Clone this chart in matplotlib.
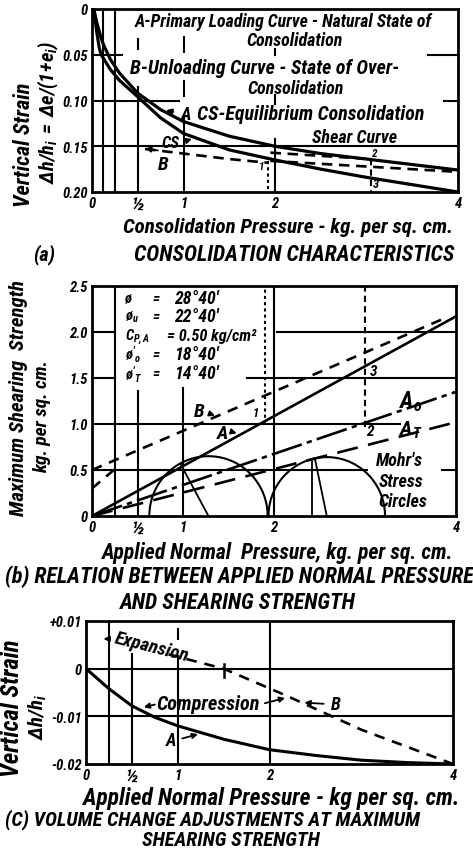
import matplotlib
matplotlib.use('Agg')
import matplotlib.pyplot as plt
from matplotlib import font_manager
import numpy as np

# ---------------- data ----------------
# (a) consolidation characteristics
a_press_A = [0.02, 0.05, 0.1, 0.13, 0.2, 0.3, 0.5, 0.75, 1.0, 1.5, 2.0, 2.5, 3.0, 3.5, 4.0]
a_strain_A = [0.0, 0.014, 0.032, 0.040, 0.055, 0.070, 0.092, 0.110, 0.123, 0.139, 0.150, 0.158, 0.164, 0.170, 0.176]
a_press_CS = [0.02, 0.05, 0.08, 0.1, 0.2, 0.3, 0.5, 0.75, 1.0, 1.5, 2.0, 2.5, 3.0, 3.5, 4.0]
a_strain_CS = [0.0, 0.024, 0.043, 0.050, 0.066, 0.078, 0.096, 0.119, 0.136, 0.154, 0.165, 0.175, 0.184, 0.192, 0.200]
a_press_B = [0.58, 1.0, 1.5, 1.92]
a_strain_B = [0.153, 0.158, 0.164, 0.168]
a_press_B2 = [1.95, 3.05]
a_strain_B2 = [0.157, 0.164]
a_press_B3 = [1.95, 4.0]
a_strain_B3 = [0.166, 0.178]
a_xticks = [0, 0.5, 1, 2, 4]
a_xticklabels = ['0', '½', '1', '2', '4']
a_yticks = [0, 0.05, 0.10, 0.15, 0.20]
a_yticklabels = ['0', '0.05', '0.10', '0.15', '0.20']

# (b) shearing strength
b_press_A = [0, 4]
b_tau_A = [0, 2.17]
b_press_B = [0, 3.9]
b_tau_B = [0.5, 2.16]
b_press_B0 = [0, 0.3]
b_tau_B0 = [0.3, 0.55]
b_press_A0 = [0, 4]
b_tau_A0 = [0, 1.35]
b_press_AT = [0, 4]
b_tau_AT = [0, 1.02]
mohr_centers = [1.28, 2.58]
mohr_radii = [0.65, 0.64]
b_xticks = [0, 0.5, 1, 2, 4]
b_xticklabels = ['0', '½', '1', '2', '4']
b_yticks = [0, 0.5, 1.0, 1.5, 2.0, 2.5]
b_yticklabels = ['0', '0.5', '1.0', '1.5', '2.0', '2.5']
b_params_sym = ['ø', '$ø_u$', '$C_{P,A}$', "$ø'_o$", "$ø'_T$"]
b_params_val = ["28°40'", "22°40'", '0.50 kg/cm²', "18°40'", "14°40'"]

# (c) volume change
c_press_A = [0, 0.25, 0.5, 0.75, 1.0, 1.5, 2.0, 2.5, 3.0, 3.5, 4.0]
c_strain_A = [0, -0.0042, -0.0078, -0.0102, -0.0120, -0.0148, -0.0170, -0.0182, -0.0192, -0.0197, -0.0200]
c_press_B = [0.9, 1.5, 2.2, 3.0, 4.0]
c_strain_B = [0.0030, 0.0, -0.0058, -0.0128, -0.0200]
c_xticks = [0, 0.5, 1, 2, 4]
c_xticklabels = ['0', '½', '1', '2', '4']
c_yticks = [0.01, 0, -0.01, -0.02]
c_yticklabels = ['+0.01', '0', '-0.01', '-0.02']

# ---------------- fonts ----------------
avail = {f.name for f in font_manager.fontManager.ttflist}
FONT = next((n for n in ['Liberation Sans Narrow', 'Roboto Condensed', 'Roboto', 'DejaVu Sans']
             if n in avail), 'DejaVu Sans')
plt.rcParams['font.family'] = [FONT, 'DejaVu Sans']
plt.rcParams['font.style'] = 'italic'
plt.rcParams['font.weight'] = 'bold'
plt.rcParams['mathtext.fontset'] = 'custom'
plt.rcParams['mathtext.rm'] = f'{FONT}:italic:bold'
plt.rcParams['mathtext.it'] = f'{FONT}:italic:bold'
plt.rcParams['mathtext.bf'] = f'{FONT}:italic:bold'

W, H = 473, 853
fig = plt.figure(figsize=(W / 100, H / 100), dpi=100)
fig.patch.set_facecolor('white')
renderer = fig.canvas.get_renderer()
K = 'black'


def ax_px(l, r, t, b):
    return fig.add_axes([l / W, 1 - b / H, (r - l) / W, (b - t) / H])


def fit(t, width, size, rot=0):
    if width:
        w = t.get_window_extent(renderer).width
        f = min(max(width / w, 0.5), 2.0)
        t.set_fontsize(size * f)
    t.set_rotation(rot)
    return t


def ftext(xp, yp, s, width=None, size=12, ha='left', va='center', rot=0):
    t = fig.text(xp / W, 1 - yp / H, s, fontsize=size, ha=ha, va=va, color=K)
    return fit(t, width, size, rot)


def atext(ax, x, y, s, width=None, size=13, ha='center', va='center', rot=0):
    t = ax.text(x, y, s, fontsize=size, ha=ha, va=va, color=K)
    return fit(t, width, size, rot)


def style(ax, xt, xl, yt, yl):
    for s in ax.spines.values():
        s.set_linewidth(2)
        s.set_color(K)
    ax.set_xticks(xt, xl)
    ax.set_yticks(yt, yl)
    ax.tick_params(length=0, pad=3, labelsize=10.5)
    for lab in ax.get_xticklabels():
        if lab.get_text() == '½':
            lab.set_fontsize(14)
    ax.set_facecolor('white')


def arrow(ax, xy, xytext):
    ax.annotate('', xy=xy, xytext=xytext,
                arrowprops=dict(arrowstyle='-|>', color=K, lw=1.3, mutation_scale=8))


LW = 1.9
GW = 1.5

# ================= (a) =================
ax = ax_px(92, 458, 10, 193)
ax.set_xlim(0, 4)
ax.set_ylim(0.20, 0)
style(ax, a_xticks, a_xticklabels, a_yticks, a_yticklabels)
for x, segs in [(0.125, [(0, 0.2)]), (0.25, [(0, 0.2)]),
                (0.5, [(0.033, 0.044), (0.085, 0.2)]),
                (1.0, [(0.031, 0.047), (0.079, 0.095), (0.118, 0.2)]),
                (2.0, [(0.044, 0.050), (0.094, 0.104), (0.142, 0.2)])]:
    for y0, y1 in segs:
        ax.plot([x, x], [y0, y1], color=K, lw=GW)
for y, segs in [(0.05, [(0, 0.33), (3.67, 4)]), (0.10, [(0, 0.95), (3.85, 4)]),
                (0.15, [(0, 4)])]:
    for x0, x1 in segs:
        ax.plot([x0, x1], [y, y], color=K, lw=GW)
ax.plot(a_press_A, a_strain_A, color=K, lw=LW + 0.4)
ax.plot(a_press_CS, a_strain_CS, color=K, lw=LW + 0.4)
ax.plot(a_press_B, a_strain_B, color=K, lw=LW, dashes=(4, 2.5))
ax.plot(a_press_B2, a_strain_B2, color=K, lw=LW, dashes=(4, 2.5))
ax.plot(a_press_B3, a_strain_B3, color=K, lw=LW, dashes=(4, 2.5))
ax.plot([1.92, 1.92], [0.166, 0.2], color=K, lw=GW, dashes=(1.5, 1.5))
ax.plot([3.05, 3.05], [0.164, 0.2], color=K, lw=GW, dashes=(3, 2))
arrow(ax, (0.55, 0.152), (0.75, 0.155))
atext(ax, 0.78, 0.169, 'B', size=14)
atext(ax, 0.86, 0.146, 'CS', size=12)
arrow(ax, (1.12, 0.141), (1.0, 0.145))
atext(ax, 1.85, 0.172, '1', size=8)
atext(ax, 3.08, 0.157, '2', size=8)
atext(ax, 3.1, 0.191, '3', size=9)

ftext(135, 22, 'A-Primary Loading Curve - Natural State of', width=298)
ftext(295, 41, 'Consolidation', size=13, ha='center')
ftext(130, 68, 'B-Unloading Curve - State of Over-', width=270)
ftext(296, 89, 'Consolidation', size=13, ha='center')
ftext(186, 115, 'A', size=13, ha='center')
ftext(197, 115, 'CS-Equilibrium Consolidation', width=228)
ftext(355, 138, 'Shear Curve', size=13, ha='center')
ax.annotate('', xy=(0.78, 0.110), xytext=(0.92, 0.113),
            arrowprops=dict(arrowstyle='-|>', color=K, lw=1.3, mutation_scale=8))

ftext(24, 145, 'Vertical Strain', width=125, size=14, ha='center', rot=90)
ftext(48, 112, r'$\Delta h/h_i\;=\;\Delta e/(1\!+\!e_i)$', width=143, size=12, ha='center', rot=90)
ftext(123, 228, 'Consolidation Pressure - kg. per sq. cm.', width=330)
ftext(33, 255, '(a)', width=22)

# ================= (b) =================
bx = ax_px(92, 456, 287, 517)
bx.set_xlim(0, 4)
bx.set_ylim(0, 2.5)
style(bx, b_xticks, b_xticklabels, b_yticks, b_yticklabels)
for x, segs in [(0.25, [(0, 2.5)]), (0.5, [(0, 1.36)]), (1.0, [(0, 1.39)]), (2.0, [(0, 2.5)])]:
    for y0, y1 in segs:
        bx.plot([x, x], [y0, y1], color=K, lw=GW)
bx.plot([1.9, 1.9], [1.0, 2.5], color=K, lw=GW, dashes=(1.5, 1.5))
bx.plot([3.0, 3.0], [0.97, 2.5], color=K, lw=GW, dashes=(3, 2))
for y, segs in [(0.5, [(0, 3.02), (3.85, 4)]), (1.0, [(0, 3.38)]),
                (1.5, [(0, 0.25), (1.7, 4)]), (2.0, [(0, 0.25), (2.03, 4)])]:
    for x0, x1 in segs:
        bx.plot([x0, x1], [y, y], color=K, lw=GW)
bx.plot(b_press_A, b_tau_A, color=K, lw=LW)
bx.plot(b_press_B, b_tau_B, color=K, lw=LW, dashes=(4, 3))
bx.plot(b_press_B0, b_tau_B0, color=K, lw=LW, dashes=(4, 3))
bx.plot(b_press_A0, b_tau_A0, color=K, lw=LW, dashes=(12, 2, 2, 2))
bx.plot(b_press_AT, b_tau_AT, color=K, lw=LW, dashes=(8, 4))
th = np.linspace(0, np.pi, 100)
for c, r in zip(mohr_centers, mohr_radii):
    bx.plot(c + r * np.cos(th), r * np.sin(th), color=K, lw=GW)
bx.plot([0.97, mohr_centers[0]], [0.57, 0], color=K, lw=1.3)
bx.plot([2.42, 2.42], [0, 0.62], color=K, lw=1.3)
bx.plot([2.45, mohr_centers[1]], [0.62, 0], color=K, lw=1.3)
rows = [2.37, 2.17, 1.96, 1.76, 1.55]
for i, (s, v) in enumerate(zip(b_params_sym, b_params_val)):
    atext(bx, 0.36, rows[i], s, size=10.5, ha='left')
    if i == 2:
        atext(bx, 0.82, rows[i], '= ' + v, width=90, size=10.5, ha='left')
    else:
        atext(bx, 0.66, rows[i], '=', size=10.5, ha='left')
        atext(bx, 0.90, rows[i], v, width=44, size=10.5, ha='left')
atext(bx, 1.18, 1.14, 'B', size=14)
arrow(bx, (1.38, 1.08), (1.27, 1.12))
atext(bx, 1.43, 0.90, 'A', size=14)
arrow(bx, (1.62, 0.89), (1.52, 0.92))
atext(bx, 1.8, 1.12, '1', size=9)
atext(bx, 3.09, 1.58, '3', size=11)
atext(bx, 3.05, 0.92, '2', size=11)
atext(bx, 3.5, 1.26, '$A_o$', width=24, size=13)
atext(bx, 3.5, 0.94, '$A_T$', width=24, size=13)
atext(bx, 3.38, 0.61, "Mohr's", size=13)
atext(bx, 3.4, 0.385, 'Stress', size=13)
atext(bx, 3.42, 0.16, 'Circles', size=13)

ftext(19, 398, 'Maximum Shearing  Strength', width=237, size=14, ha='center', rot=90)
ftext(42, 417, 'kg. per sq. cm.', width=113, size=13, ha='center', rot=90)
ftext(102, 553, 'Applied Normal  Pressure, kg. per sq. cm.', width=351)
tb = ftext(5, 577, '(b) RELATION BETWEEN APPLIED NORMAL PRESSURE', width=467)
TS = tb.get_fontsize()
ftext(238, 603, 'AND SHEARING STRENGTH', size=TS, ha='center')
ftext(294, 255, 'CONSOLIDATION CHARACTERISTICS', size=TS, ha='center')

# ================= (c) =================
cx = ax_px(86, 453, 622, 765)
cx.set_xlim(0, 4)
cx.set_ylim(-0.02, 0.01)
style(cx, c_xticks, c_xticklabels, c_yticks, c_yticklabels)
for x, segs in [(0.25, [(-0.02, 0.01)]), (0.5, [(-0.02, 0.003)]),
                (1.0, [(0.0063, 0.0083), (-0.02, 0.0027)]), (2.0, [(-0.02, 0.01)])]:
    for y0, y1 in segs:
        cx.plot([x, x], [y0, y1], color=K, lw=GW)
for y in [0, -0.01]:
    cx.plot([0, 4], [y, y], color=K, lw=GW)
cx.plot(c_press_A, c_strain_A, color=K, lw=LW + 0.3)
cx.plot(c_press_B, c_strain_B, color=K, lw=LW, dashes=(4, 3))
cx.plot([1.5, 1.5], [0.001, -0.0017], color=K, lw=1.8)
atext(cx, 0.72, 0.0047, 'Expansion', width=76, size=11, rot=-14)
arrow(cx, (0.16, 0.0063), (0.29, 0.0062))
atext(cx, 1.33, -0.0073, 'Compression', width=103, size=13)
arrow(cx, (0.60, -0.0082), (0.78, -0.0074))
arrow(cx, (2.2, -0.0060), (1.92, -0.0074))
atext(cx, 2.72, -0.0075, 'B', size=13)
arrow(cx, (2.35, -0.0071), (2.62, -0.0074))
atext(cx, 0.93, -0.0150, 'A', size=13)
arrow(cx, (1.25, -0.0136), (1.02, -0.0148))

ftext(12, 708, 'Vertical Strain', width=137, size=13, ha='center', rot=90)
ftext(38, 717, r'$\Delta h/h_i$', size=15, ha='center', rot=90)
ftext(83, 799, 'Applied Normal Pressure - kg per sq. cm.', width=377)
ftext(5, 820, '(C) VOLUME CHANGE ADJUSTMENTS AT MAXIMUM', size=TS * 0.92)
ftext(231, 841, 'SHEARING STRENGTH', size=TS * 0.92, ha='center')

fig.savefig('out.png', dpi=100, facecolor='white')
